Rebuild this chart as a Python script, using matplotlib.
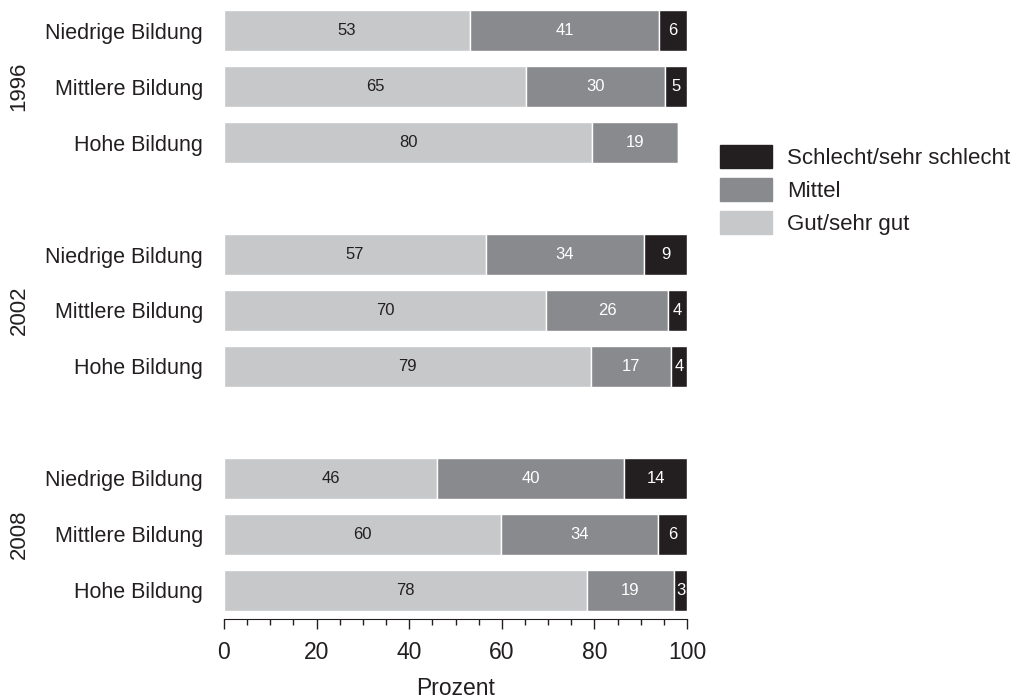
import numpy as np
import matplotlib
matplotlib.use("Agg")
import matplotlib.pyplot as plt
from matplotlib.patches import Patch
from matplotlib.ticker import MultipleLocator
from matplotlib.transforms import blended_transform_factory

plt.rcParams['font.family'] = ['Liberation Sans', 'DejaVu Sans']

years = ['1996', '2002', '2008']
levels = ['Niedrige Bildung', 'Mittlere Bildung', 'Hohe Bildung']

# Anteile in Prozent (Balkenlaenge aus dem Bild geschaetzt), Reihenfolge: 1996, 2002, 2008
gut = [53.1, 65.2, 79.5, 56.6, 69.6, 79.2, 46.1, 59.8, 78.3]
mittel = [40.9, 30.1, 18.6, 34.1, 26.4, 17.3, 40.4, 33.9, 18.9]
schlecht = [6.0, 4.7, 0.0, 9.3, 4.0, 3.5, 13.5, 6.3, 2.8]

# Beschriftungen wie im Bild
gut_lab = ['53', '65', '80', '57', '70', '79', '46', '60', '78']
mittel_lab = ['41', '30', '19', '34', '26', '17', '40', '34', '19']
schlecht_lab = ['6', '5', '', '9', '4', '4', '14', '6', '3']

c_gut = '#c7c8ca'
c_mittel = '#898a8d'
c_schlecht = '#231f20'

fig = plt.figure(figsize=(10.17, 7), dpi=100)
ax = fig.add_axes([224 / 1017, 1 - 619 / 700, 463 / 1017, 617 / 700])

pos = []
for g in range(3):
    for k in range(3):
        pos.append(g * 4 + k)
pos = np.array(pos)
h = 0.74

gut = np.array(gut)
mittel = np.array(mittel)
schlecht = np.array(schlecht)

ax.barh(pos, gut, height=h, color=c_gut, edgecolor='white', linewidth=1)
ax.barh(pos, mittel, left=gut, height=h, color=c_mittel, edgecolor='white', linewidth=1)
ax.barh(pos, schlecht, left=gut + mittel, height=h, color=c_schlecht, edgecolor='white', linewidth=1)

for i, p in enumerate(pos):
    ax.text(gut[i] / 2, p, gut_lab[i], ha='center', va='center', fontsize=12, color='#231f20')
    ax.text(gut[i] + mittel[i] / 2, p, mittel_lab[i], ha='center', va='center', fontsize=12, color='white')
    if schlecht[i] > 0:
        ax.text(gut[i] + mittel[i] + schlecht[i] / 2, p, schlecht_lab[i], ha='center', va='center',
                fontsize=12, color='white')

ax.set_xlim(0, 100)
ax.set_ylim(10.51, -0.51)
ax.set_yticks(pos)
ax.set_yticklabels(levels * 3, fontsize=15.5, color='#231f20')
ax.tick_params(axis='y', length=0, pad=15)

ax.xaxis.set_major_locator(MultipleLocator(20))
ax.xaxis.set_minor_locator(MultipleLocator(5))
ax.tick_params(axis='x', which='major', length=7, width=1, pad=9, labelsize=16.5, colors='#231f20')
ax.tick_params(axis='x', which='minor', length=4.5, width=1, colors='#231f20')
ax.set_xlabel('Prozent', fontsize=16.5, color='#231f20', labelpad=9)

for s in ['top', 'right', 'left']:
    ax.spines[s].set_visible(False)
ax.spines['bottom'].set_color('#231f20')

trans = blended_transform_factory(fig.transFigure, ax.transData)
for g, y in enumerate(years):
    fig.text(19 / 1017, g * 4 + 1, y, transform=trans, rotation=90, ha='center', va='center',
             fontsize=16, color='#231f20')

handles = [Patch(color=c_schlecht), Patch(color=c_mittel), Patch(color=c_gut)]
labels = ['Schlecht/sehr schlecht', 'Mittel', 'Gut/sehr gut']
fig.legend(handles, labels, loc='upper left', bbox_to_anchor=(720 / 1017, 1 - 145 / 700),
           bbox_transform=fig.transFigure, frameon=False, fontsize=16, borderpad=0,
           borderaxespad=0, handlelength=2.35, handleheight=1.2, labelspacing=0.42,
           handletextpad=0.68, labelcolor='#231f20')

fig.savefig('out.png', dpi=100)
